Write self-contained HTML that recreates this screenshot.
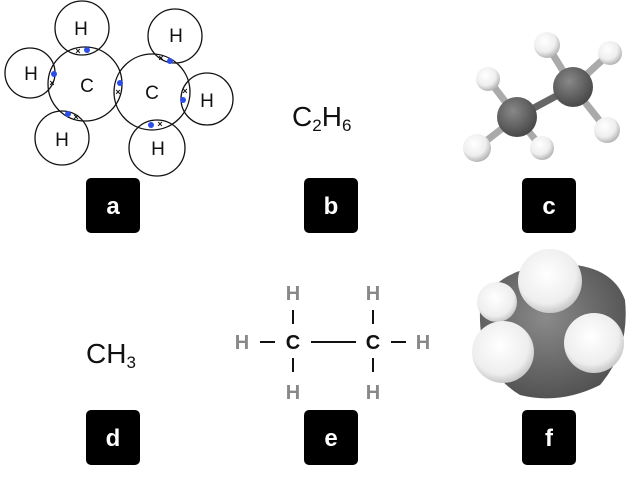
<!DOCTYPE html>
<html><head><style>
body{margin:0;background:#fff;width:640px;height:480px;overflow:hidden}
</style></head><body>
<svg width="640" height="480" viewBox="0 0 640 480" xmlns="http://www.w3.org/2000/svg" font-family="Liberation Sans, sans-serif">
<defs>
<radialGradient id="gw" cx="0.4" cy="0.35" r="0.7"><stop offset="0" stop-color="#fff"/><stop offset="0.6" stop-color="#eee"/><stop offset="1" stop-color="#aaa"/></radialGradient>
<radialGradient id="gw2" cx="0.45" cy="0.4" r="0.65"><stop offset="0" stop-color="#fff"/><stop offset="0.7" stop-color="#eee"/><stop offset="1" stop-color="#bbb"/></radialGradient>
<radialGradient id="gc" cx="0.4" cy="0.35" r="0.7"><stop offset="0" stop-color="#888"/><stop offset="1" stop-color="#444"/></radialGradient>
<radialGradient id="gb" cx="0.45" cy="0.4" r="0.7"><stop offset="0" stop-color="#8a8a8a"/><stop offset="1" stop-color="#4a4a4a"/></radialGradient>
</defs>
<!-- a -->
<g fill="none" stroke="#111" stroke-width="1.3">
<circle cx="82" cy="28" r="27"/><circle cx="85" cy="84" r="37"/><circle cx="30" cy="73" r="25"/>
<circle cx="62" cy="138" r="27"/><circle cx="152" cy="92" r="38"/><circle cx="175" cy="36" r="27"/>
<circle cx="207" cy="99" r="26"/><circle cx="157" cy="148" r="28"/>
</g>
<g font-size="19" fill="#111" text-anchor="middle">
<text x="81" y="35">H</text><text x="31" y="80">H</text><text x="87" y="92">C</text><text x="62" y="146">H</text>
<text x="152" y="99">C</text><text x="176" y="42">H</text><text x="207" y="107">H</text><text x="158" y="155">H</text>
</g>
<g fill="#2b4de8">
<circle cx="87" cy="50" r="3"/><circle cx="54" cy="74" r="3"/><circle cx="68" cy="114" r="3"/>
<circle cx="120" cy="83" r="3"/><circle cx="170" cy="61" r="3"/><circle cx="183" cy="100" r="3"/><circle cx="151" cy="125" r="3"/>
</g>
<g font-size="9" fill="#111" text-anchor="middle" font-weight="bold">
<text x="78" y="54">×</text><text x="52" y="86">×</text><text x="76" y="120">×</text>
<text x="118" y="95">×</text><text x="161" y="61">×</text><text x="185" y="94">×</text><text x="160" y="127">×</text>
</g>
<!-- b -->
<text x="292" y="126" font-size="28" fill="#111">C<tspan font-size="17" dy="5">2</tspan><tspan dy="-5">H</tspan><tspan font-size="17" dy="5">6</tspan></text>
<!-- c -->
<g stroke-linecap="round">
<line x1="517" y1="117" x2="573" y2="87" stroke="#666" stroke-width="7"/>
<line x1="517" y1="117" x2="488" y2="79" stroke="#aaa" stroke-width="7"/>
<line x1="517" y1="117" x2="477" y2="148" stroke="#aaa" stroke-width="7"/>
<line x1="517" y1="117" x2="542" y2="148" stroke="#aaa" stroke-width="7"/>
<line x1="573" y1="87" x2="547" y2="45" stroke="#aaa" stroke-width="7"/>
<line x1="573" y1="87" x2="610" y2="53" stroke="#aaa" stroke-width="7"/>
<line x1="573" y1="87" x2="607" y2="130" stroke="#aaa" stroke-width="7"/>
</g>
<circle cx="573" cy="87" r="20" fill="url(#gc)"/>
<circle cx="547" cy="45" r="13" fill="url(#gw)"/><circle cx="610" cy="53" r="12" fill="url(#gw)"/>
<circle cx="607" cy="130" r="13" fill="url(#gw)"/><circle cx="488" cy="79" r="12" fill="url(#gw)"/>
<circle cx="517" cy="117" r="20" fill="url(#gc)"/>
<circle cx="477" cy="148" r="14" fill="url(#gw)"/><circle cx="542" cy="148" r="12" fill="url(#gw)"/>
<!-- d -->
<text x="86" y="363" font-size="28" fill="#111">CH<tspan font-size="17" dy="5">3</tspan></text>
<!-- e -->
<g font-size="20" font-weight="bold" fill="#888" text-anchor="middle">
<text x="293" y="300">H</text><text x="373" y="300">H</text><text x="242" y="349">H</text><text x="423" y="349">H</text>
<text x="293" y="399">H</text><text x="373" y="399">H</text>
</g>
<g font-size="20" font-weight="bold" fill="#111" text-anchor="middle"><text x="293" y="349">C</text><text x="373" y="349">C</text></g>
<g stroke="#111" stroke-width="2">
<line x1="293" y1="310" x2="293" y2="324"/><line x1="373" y1="310" x2="373" y2="324"/>
<line x1="293" y1="358" x2="293" y2="372"/><line x1="373" y1="358" x2="373" y2="372"/>
<line x1="260" y1="342" x2="275" y2="342"/><line x1="391" y1="342" x2="406" y2="342"/>
<line x1="311" y1="342" x2="356" y2="342"/>
</g>
<!-- f -->
<path d="M480 310 Q490 275 540 265 Q610 258 625 300 Q630 350 600 385 Q560 405 520 395 Q478 370 480 310Z" fill="url(#gb)"/>
<circle cx="497" cy="302" r="20" fill="url(#gw2)"/>
<circle cx="503" cy="352" r="31" fill="url(#gw2)"/>
<circle cx="594" cy="343" r="30" fill="url(#gw2)"/>
<circle cx="550" cy="281" r="32" fill="url(#gw2)"/>
<!-- labels -->
<g fill="#000">
<rect x="86" y="178" width="54" height="55" rx="5"/><rect x="304" y="178" width="54" height="55" rx="5"/><rect x="522" y="178" width="54" height="55" rx="5"/>
<rect x="86" y="410" width="54" height="55" rx="5"/><rect x="304" y="410" width="54" height="55" rx="5"/><rect x="522" y="410" width="54" height="55" rx="5"/>
</g>
<g fill="#fff" font-size="24" font-weight="bold" text-anchor="middle">
<text x="113" y="214">a</text><text x="331" y="214">b</text><text x="549" y="214">c</text>
<text x="113" y="446">d</text><text x="331" y="446">e</text><text x="549" y="446">f</text>
</g>
</svg>
</body></html>
